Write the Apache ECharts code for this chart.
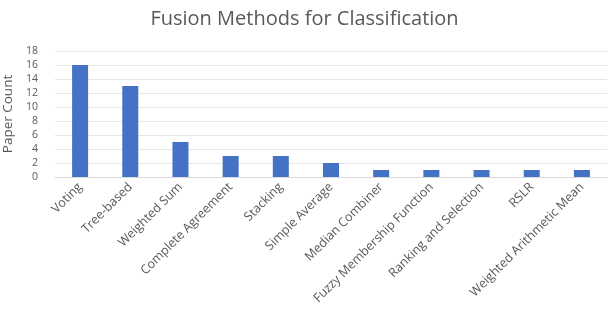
<!DOCTYPE html>
<html><head><meta charset="utf-8">
<script src="https://cdn.jsdelivr.net/npm/echarts@6/dist/echarts.min.js"></script>
<style>html,body{margin:0;padding:0;background:#fff}#c{width:609px;height:315px}</style>
</head><body><div id="c"></div>
<script>
const categories = ["Voting","Tree-based","Weighted Sum","Complete Agreement","Stacking","Simple Average","Median Combiner","Fuzzy Membership Function","Ranking and Selection","RSLR","Weighted Arithmetic Mean"];
const paperCount = [16,13,5,3,3,2,1,1,1,1,1];
const chart = echarts.init(document.getElementById('c'));
chart.setOption({
  animation:false,
  textStyle:{fontFamily:'Open Sans'},
  title:{text:'Fusion Methods for Classification',left:'center',top:4,textStyle:{fontSize:20,fontWeight:'normal',color:'#595959',fontFamily:'Open Sans'}},
  grid:{left:55,right:2,top:51,bottom:138,containLabel:false,outerBoundsMode:'none'},
  xAxis:{type:'category',data:categories,
    axisLine:{lineStyle:{color:'#d9d9d9'}},axisTick:{show:false},
    axisLabel:{rotate:45,interval:0,color:'#595959',fontSize:12.5,margin:8}},
  yAxis:{type:'value',min:0,max:18,interval:2,name:'Paper Count',nameLocation:'middle',nameGap:31,
    nameTextStyle:{color:'#595959',fontSize:13.5},
    axisLabel:{color:'#595959',fontSize:10.5,margin:17},
    splitLine:{lineStyle:{color:'#e6e6e6'}},axisLine:{show:false},axisTick:{show:false}},
  series:[{type:'bar',data:paperCount,barWidth:16,itemStyle:{color:'#4472C4'}}]
});
</script></body></html>
